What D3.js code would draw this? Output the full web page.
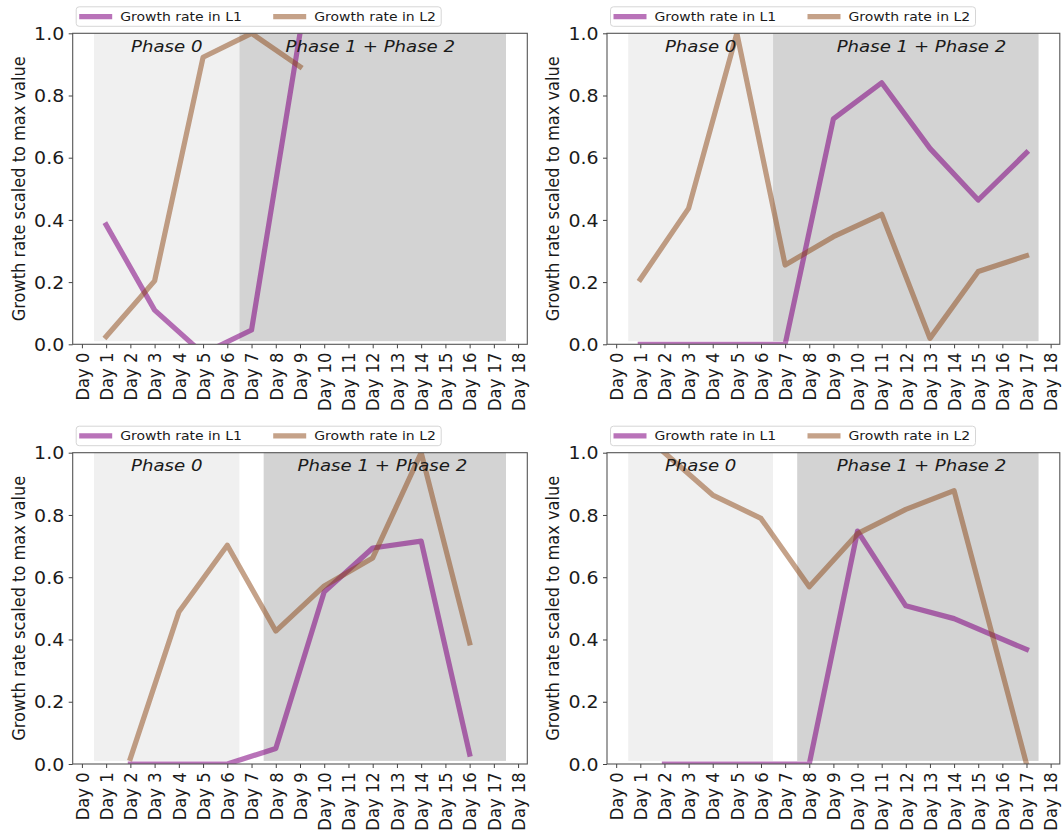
<!DOCTYPE html>
<html>
<head>
<meta charset="utf-8">
<script src="https://cdn.jsdelivr.net/npm/d3@7"></script>
<style>
  body { margin: 0; background: #ffffff; }
  text { font-family: "DejaVu Sans", sans-serif; fill: #1a1a1a; }
</style>
</head>
<body>
<svg id="fig" width="1062" height="835"></svg>
<script>
// ---- tick labels and series names ----
const dayTicks = d3.range(0, 19);
const dayLabels = dayTicks.map(d => `Day ${d}`);
const yTicks = [0.0, 0.2, 0.4, 0.6, 0.8, 1.0];
const seriesNames = ["Growth rate in L1", "Growth rate in L2"];
const yLabel = "Growth rate scaled to max value";
const phase0Text = "Phase 0";
const phase12Text = "Phase 1 + Phase 2";

// ---- panel A (top left) ----
const daysA = [1, 3, 5, 7, 9];
const l1A = [0.384, 0.110, -0.030, 0.046, 1.000];
const l2A = [0.025, 0.204, 0.923, 1.000, 0.893];

// ---- panel B (top right) ----
const daysB = [1, 3, 5, 7, 9, 11, 13, 15, 17];
const l1B = [0, 0, 0, 0, 0.725, 0.841, 0.630, 0.464, 0.616];
const l2B = [0.209, 0.437, 1.000, 0.255, 0.346, 0.418, 0.019, 0.234, 0.285];

// ---- panel C (bottom left) ----
const daysC = [2, 4, 6, 8, 10, 12, 14, 16];
const l1C = [0, 0, 0, 0.050, 0.553, 0.694, 0.716, 0.032];
const l2C = [0.018, 0.488, 0.703, 0.427, 0.572, 0.662, 1.000, 0.389];

// ---- panel D (bottom right) ----
const daysD = [2, 4, 6, 8, 10, 12, 14, 17];
const l1D = [0, 0, 0, 0, 0.748, 0.508, 0.467, 0.368];
const l2D = [1.000, 0.864, 0.789, 0.569, 0.740, 0.818, 0.878, 0.000];

// ---- shaded phases (day units) and label positions ----
const phase0Spans = [[0.5, 6.5], [0.5, 6.5], [0.5, 6.5], [0.5, 6.5]];
const phase12Spans = [[6.5, 17.5], [6.5, 17.5], [7.5, 17.5], [7.5, 17.5]];
const phase0LabelX = [3.5, 3.5, 3.5, 3.5];
const phase12LabelX = [11.9, 12.65, 12.4, 12.65];

// ---- layout ----
const colLeft = [72.7, 607.0], colRight = [527.3, 1059.8];
const rowTop = [33.3, 452.7], rowBottom = [344.3, 764.0];
const stretch = 1.1;               // horizontal text stretch of the figure
const colors = { l1: "rgb(128,0,128)", l2: "rgb(139,69,19)" };
const lineAlpha = [0.55, 0.5];
const lineWidth = 5.2;

const panels = [
  { row: 0, col: 0, days: daysA, l1: l1A, l2: l2A },
  { row: 0, col: 1, days: daysB, l1: l1B, l2: l2B },
  { row: 1, col: 0, days: daysC, l1: l1C, l2: l2C },
  { row: 1, col: 1, days: daysD, l1: l1D, l2: l2D },
];

const svg = d3.select("#fig");

panels.forEach((p, i) => {
  const left = colLeft[p.col], right = colRight[p.col];
  const top = rowTop[p.row], bottom = rowBottom[p.row];
  const x = d3.scaleLinear().domain([-0.38, 18.38]).range([left, right]);
  const y = d3.scaleLinear().domain([0, 1]).range([bottom, top]);
  const g = svg.append("g");

  const clipId = `clip-${i}`;
  svg.append("clipPath").attr("id", clipId)
    .append("rect").attr("x", left).attr("y", top)
    .attr("width", right - left).attr("height", bottom - top);

  // phase shading
  const spanBase = 0.01;
  g.append("rect")
    .attr("x", x(phase0Spans[i][0])).attr("y", y(1))
    .attr("width", x(phase0Spans[i][1]) - x(phase0Spans[i][0]))
    .attr("height", y(spanBase) - y(1))
    .attr("fill", "#f0f0f0");
  g.append("rect")
    .attr("x", x(phase12Spans[i][0])).attr("y", y(1))
    .attr("width", x(phase12Spans[i][1]) - x(phase12Spans[i][0]))
    .attr("height", y(spanBase) - y(1))
    .attr("fill", "#d3d3d3");

  // series lines
  const line = d3.line().x(d => x(d[0])).y(d => y(d[1]));
  [["l1", p.l1], ["l2", p.l2]].forEach(([key, vals], k) => {
    g.append("path")
      .datum(p.days.map((d, j) => [d, vals[j]]))
      .attr("d", line)
      .attr("clip-path", `url(#${clipId})`)
      .attr("fill", "none")
      .attr("stroke", colors[key])
      .attr("stroke-opacity", lineAlpha[k])
      .attr("stroke-width", lineWidth)
      .attr("stroke-linejoin", "round")
      .attr("stroke-linecap", "square");
  });

  // phase labels
  const labelY = y(0.941);
  [[phase0LabelX[i], phase0Text], [phase12LabelX[i], phase12Text]].forEach(([lx, t]) => {
    g.append("text")
      .attr("transform", `translate(${x(lx)},${labelY}) scale(${stretch},1)`)
      .attr("text-anchor", "middle")
      .attr("font-size", 16.5)
      .attr("font-style", "italic")
      .text(t);
  });

  // frame
  g.append("rect")
    .attr("x", left).attr("y", top)
    .attr("width", right - left).attr("height", bottom - top)
    .attr("fill", "none").attr("stroke", "#555").attr("stroke-width", 1.1);

  // x axis
  const xAxis = d3.axisBottom(x).tickValues(dayTicks)
    .tickFormat(d => dayLabels[d]).tickSize(4).tickSizeOuter(0);
  const gx = g.append("g").attr("transform", `translate(0,${bottom})`).call(xAxis);
  gx.select(".domain").remove();
  gx.selectAll(".tick line").attr("stroke", "#444").attr("stroke-width", 1);
  gx.selectAll(".tick text")
    .attr("font-family", "DejaVu Sans")
    .attr("font-size", 16.4)
    .attr("fill", "#1a1a1a")
    .attr("x", null).attr("y", null).attr("dy", null)
    .attr("text-anchor", "end")
    .attr("dominant-baseline", "central")
    .attr("transform", `translate(0,8.3) scale(${stretch},1) rotate(-90)`);

  // y axis
  const yAxis = d3.axisLeft(y).tickValues(yTicks)
    .tickFormat(d3.format(".1f")).tickSize(4).tickSizeOuter(0);
  const gy = g.append("g").attr("transform", `translate(${left},0)`).call(yAxis);
  gy.select(".domain").remove();
  gy.selectAll(".tick line").attr("stroke", "#444").attr("stroke-width", 1);
  gy.selectAll(".tick text")
    .attr("font-family", "DejaVu Sans")
    .attr("font-size", 17.2)
    .attr("fill", "#1a1a1a")
    .attr("x", null).attr("dy", null)
    .attr("text-anchor", "end")
    .attr("dominant-baseline", "central")
    .attr("transform", `translate(-8.5,0) scale(${stretch},1)`);

  // y label
  g.append("text")
    .attr("transform", `translate(${left - 54},${(top + bottom) / 2}) scale(${stretch},1) rotate(-90)`)
    .attr("text-anchor", "middle")
    .attr("dominant-baseline", "central")
    .attr("font-size", 16.2)
    .text(yLabel);

  // legend
  const lx0 = left + 3.5, ly0 = top - 26.5;
  const lg = g.append("g");
  lg.append("rect")
    .attr("x", lx0).attr("y", ly0).attr("width", 365).attr("height", 19.5)
    .attr("rx", 3).attr("fill", "#fff").attr("stroke", "#d6d6d6").attr("stroke-width", 1);
  const entryX = [0, 194];
  seriesNames.forEach((name, k) => {
    const ex = lx0 + 3 + entryX[k];
    const ey = ly0 + 9.75;
    lg.append("line")
      .attr("x1", ex).attr("x2", ex + 33).attr("y1", ey).attr("y2", ey)
      .attr("stroke", k === 0 ? colors.l1 : colors.l2)
      .attr("stroke-opacity", lineAlpha[k])
      .attr("stroke-width", lineWidth);
    lg.append("text")
      .attr("transform", `translate(${ex + 41},${ey}) scale(${stretch},1)`)
      .attr("dominant-baseline", "central")
      .attr("font-size", 12.7)
      .text(name);
  });
});
</script>
</body>
</html>
